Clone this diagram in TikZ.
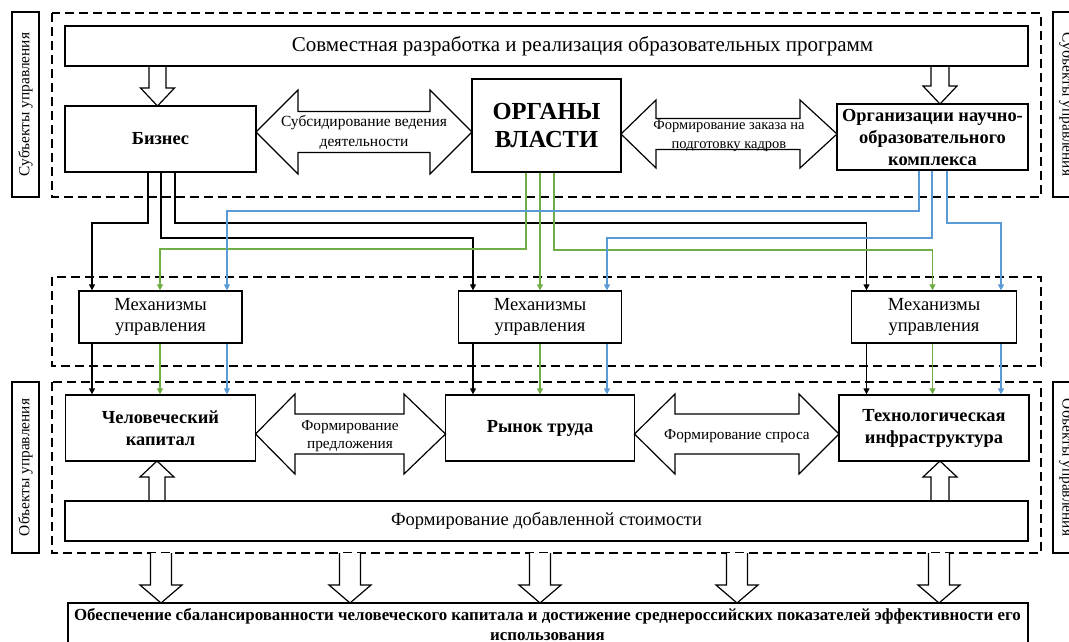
\documentclass[tikz,border=0pt]{standalone}
\usepackage{fontspec}
\setmainfont{Liberation Serif}
\usetikzlibrary{arrows.meta}
\definecolor{grn}{HTML}{70AD47}
\definecolor{blu}{HTML}{5B9BD5}
\newcommand\fs[2]{\fontsize{#1}{#2}\selectfont}
% hollow block arrow pointing down: centre x, top y, tip y, shaft half, head half, head length
\newcommand\blkdown[6]{\draw[hollow] (#1-#4,#2) -- (#1-#4,#3-#6) -- (#1-#5,#3-#6) -- (#1,#3) -- (#1+#5,#3-#6) -- (#1+#4,#3-#6) -- (#1+#4,#2);}
% hollow block arrow pointing up: centre x, bottom y, tip y, shaft half, head half, head length
\newcommand\blkup[6]{\draw[hollow] (#1-#4,#2) -- (#1-#4,#3+#6) -- (#1-#5,#3+#6) -- (#1,#3) -- (#1+#5,#3+#6) -- (#1+#4,#3+#6) -- (#1+#4,#2);}
% double block arrow: left tip, left base, right base, right tip, centre y, head half, shaft half
\newcommand\dblarr[7]{\draw[hollow] (#1,#5) -- (#2,#5-#6) -- (#2,#5-#7) -- (#3,#5-#7) -- (#3,#5-#6) -- (#4,#5) -- (#3,#5+#6) -- (#3,#5+#7) -- (#2,#5+#7) -- (#2,#5+#6) -- cycle;}
\begin{document}
\begin{tikzpicture}[x=1pt,y=-1pt,
  box/.style={draw,line width=1.3pt,inner sep=0pt,align=center},
  dashbox/.style={draw,line width=1.3pt,dash pattern=on 9pt off 5pt},
  hollow/.style={draw,line width=1.2pt,fill=white,line join=miter},
  tip/.style={-{Triangle[length=6pt,width=6pt]}},
  blk/.style={tip,line width=1.2pt},
  grnl/.style={tip,grn,line width=1.2pt},
  blul/.style={tip,blu,line width=1.6pt},
  lbl/.style={box,font=\fs{15.4}{18}},
  big/.style={font=\fs{18.5}{21}},
  bigb/.style={font=\fs{18.4}{22}\bfseries},
  arrtxt/.style={align=center,inner sep=0pt}
]
\clip (0,0) rectangle (1069,642);
\fill[white] (0,0) rectangle (1069,642);

% dashed frames
\draw[dashbox] (52,13) rectangle (1041,197);
\draw[dashbox] (52,277) rectangle (1041,366);
\draw[dashbox] (52,382) rectangle (1041,553);

% side labels
\node[lbl,rotate=90,minimum width=185pt,minimum height=27pt] (subL) at (25.5,104.5) {Субъекты управления};
\node[lbl,rotate=-90,minimum width=185pt,minimum height=27pt] (subR) at (1066.5,104.5) {Субъекты управления};
\node[lbl,rotate=90,minimum width=171pt,minimum height=27pt] (objL) at (25.5,467.5) {Объекты управления};
\node[lbl,rotate=-90,minimum width=171pt,minimum height=27pt] (objR) at (1066.5,467.5) {Объекты управления};

% block arrows
\blkdown{157.5}{66.6}{106}{8.5}{17}{18}
\blkdown{940}{66.6}{104}{9}{17}{18}
\blkup{157}{500.4}{461}{8}{17}{16}
\blkup{940}{500.4}{461}{9}{17}{16}
\blkdown{161}{553}{603}{10.5}{21}{18}
\blkdown{350}{553}{603}{10.5}{21}{18}
\blkdown{540}{553}{603}{10.5}{21}{18}
\blkdown{737}{553}{603}{10.5}{21}{18}
\blkdown{939}{553}{603}{10.5}{21}{18}

\dblarr{256}{298}{430}{472}{132}{42}{20.5}
\node[arrtxt,font=\fs{15.5}{20}] (t1) at (364,132) {Субсидирование ведения\\деятельности};
\dblarr{621}{656}{800}{837}{134}{34}{15.5}
\node[arrtxt,font=\fs{14.5}{19}] (t2) at (729,136) {Формирование заказа на\\подготовку кадров};
\dblarr{255.5}{295}{404}{445.5}{434}{40}{20}
\node[arrtxt,font=\fs{15.3}{18.5}] (t3) at (350,436) {Формирование\\предложения};
\dblarr{634.5}{675}{799}{839}{434}{40}{20}
\node[arrtxt,font=\fs{15.3}{18}] (t4) at (737,436) {Формирование спроса};

% boxes
\node[box,font=\fs{21}{24},minimum width=963pt,minimum height=40pt] (top) at (546.5,46) {\hspace*{72pt}Совместная разработка и реализация образовательных программ};
\node[box,bigb,minimum width=191pt,minimum height=66pt] (biz) at (160.5,139) {Бизнес};
\node[box,font=\fs{24.5}{28}\bfseries,minimum width=149pt,minimum height=93pt] (ov) at (546.5,125.5) {ОРГАНЫ\\ВЛАСТИ};
\node[box,bigb,minimum width=191pt,minimum height=66pt] (org) at (932.5,137) {Организации научно-\\образовательного\\комплекса};

\node[box,big,minimum width=163pt,minimum height=52pt] (m1) at (160.5,317) {Механизмы\\управления};
\node[box,big,minimum width=163pt,minimum height=52pt] (m2) at (540,317) {Механизмы\\управления};
\node[box,big,minimum width=165pt,minimum height=52pt] (m3) at (934,317) {Механизмы\\управления};

\node[box,bigb,minimum width=190pt,minimum height=66pt] (ck) at (160.5,428) {Человеческий\\капитал};
\node[box,bigb,minimum width=189pt,minimum height=66pt] (rt) at (540,428) {Рынок труда};
\node[box,bigb,minimum width=190pt,minimum height=66pt] (ti) at (934,428) {Технологическая\\инфраструктура};

\node[box,big,minimum width=963pt,minimum height=40pt] (fds) at (546.5,521) {Формирование добавленной стоимости};

\node[box,minimum width=960pt,minimum height=74pt] (fin) at (548,640) {};
\node[arrtxt,font=\fs{16.9}{20}\bfseries,anchor=north] (fintext) at (547.5,608) {Обеспечение сбалансированности человеческого капитала и достижение среднероссийских показателей эффективности его\\использования};

% black connectors (business)
\draw[blk] ([xshift=-12.5pt]biz.south) |- (92,223) -- ([xshift=-68.5pt]m1.north);
\draw[blk] ([xshift=0.5pt]biz.south) |- (473,238) -- ([xshift=-67pt]m2.north);
\draw[blk] ([xshift=14.5pt]biz.south) |- (866.5,223) -- ([xshift=-67.5pt]m3.north);
% green connectors (authorities)
\draw[grnl] ([xshift=-20.5pt]ov.south) |- (160,249) -- ([xshift=-0.5pt]m1.north);
\draw[grnl] ([xshift=-6.5pt]ov.south) -- (m2.north);
\draw[grnl] ([xshift=7.5pt]ov.south) |- (932.5,250) -- ([xshift=-1.5pt]m3.north);
% blue connectors (science/education)
\draw[blul] ([xshift=-13.5pt]org.south) |- (227,211) -- ([xshift=66.5pt]m1.north);
\draw[blul] ([xshift=-0.5pt]org.south) |- (607,238) -- ([xshift=67pt]m2.north);
\draw[blul] ([xshift=14.5pt]org.south) |- (1001,223) -- ([xshift=67pt]m3.north);

% mechanisms to objects
\draw[blk] ([xshift=-68.5pt]m1.south) -- ([xshift=-68.5pt]ck.north);
\draw[grnl] ([xshift=-0.5pt]m1.south) -- ([xshift=-0.5pt]ck.north);
\draw[blul] ([xshift=66.5pt]m1.south) -- ([xshift=66.5pt]ck.north);
\draw[blk] ([xshift=-67pt]m2.south) -- ([xshift=-67pt]rt.north);
\draw[grnl] (m2.south) -- (rt.north);
\draw[blul] ([xshift=67pt]m2.south) -- ([xshift=67pt]rt.north);
\draw[blk] ([xshift=-67.5pt]m3.south) -- ([xshift=-67.5pt]ti.north);
\draw[grnl] ([xshift=-1.5pt]m3.south) -- ([xshift=-1.5pt]ti.north);
\draw[blul] ([xshift=67pt]m3.south) -- ([xshift=67pt]ti.north);
\end{tikzpicture}
\end{document}
